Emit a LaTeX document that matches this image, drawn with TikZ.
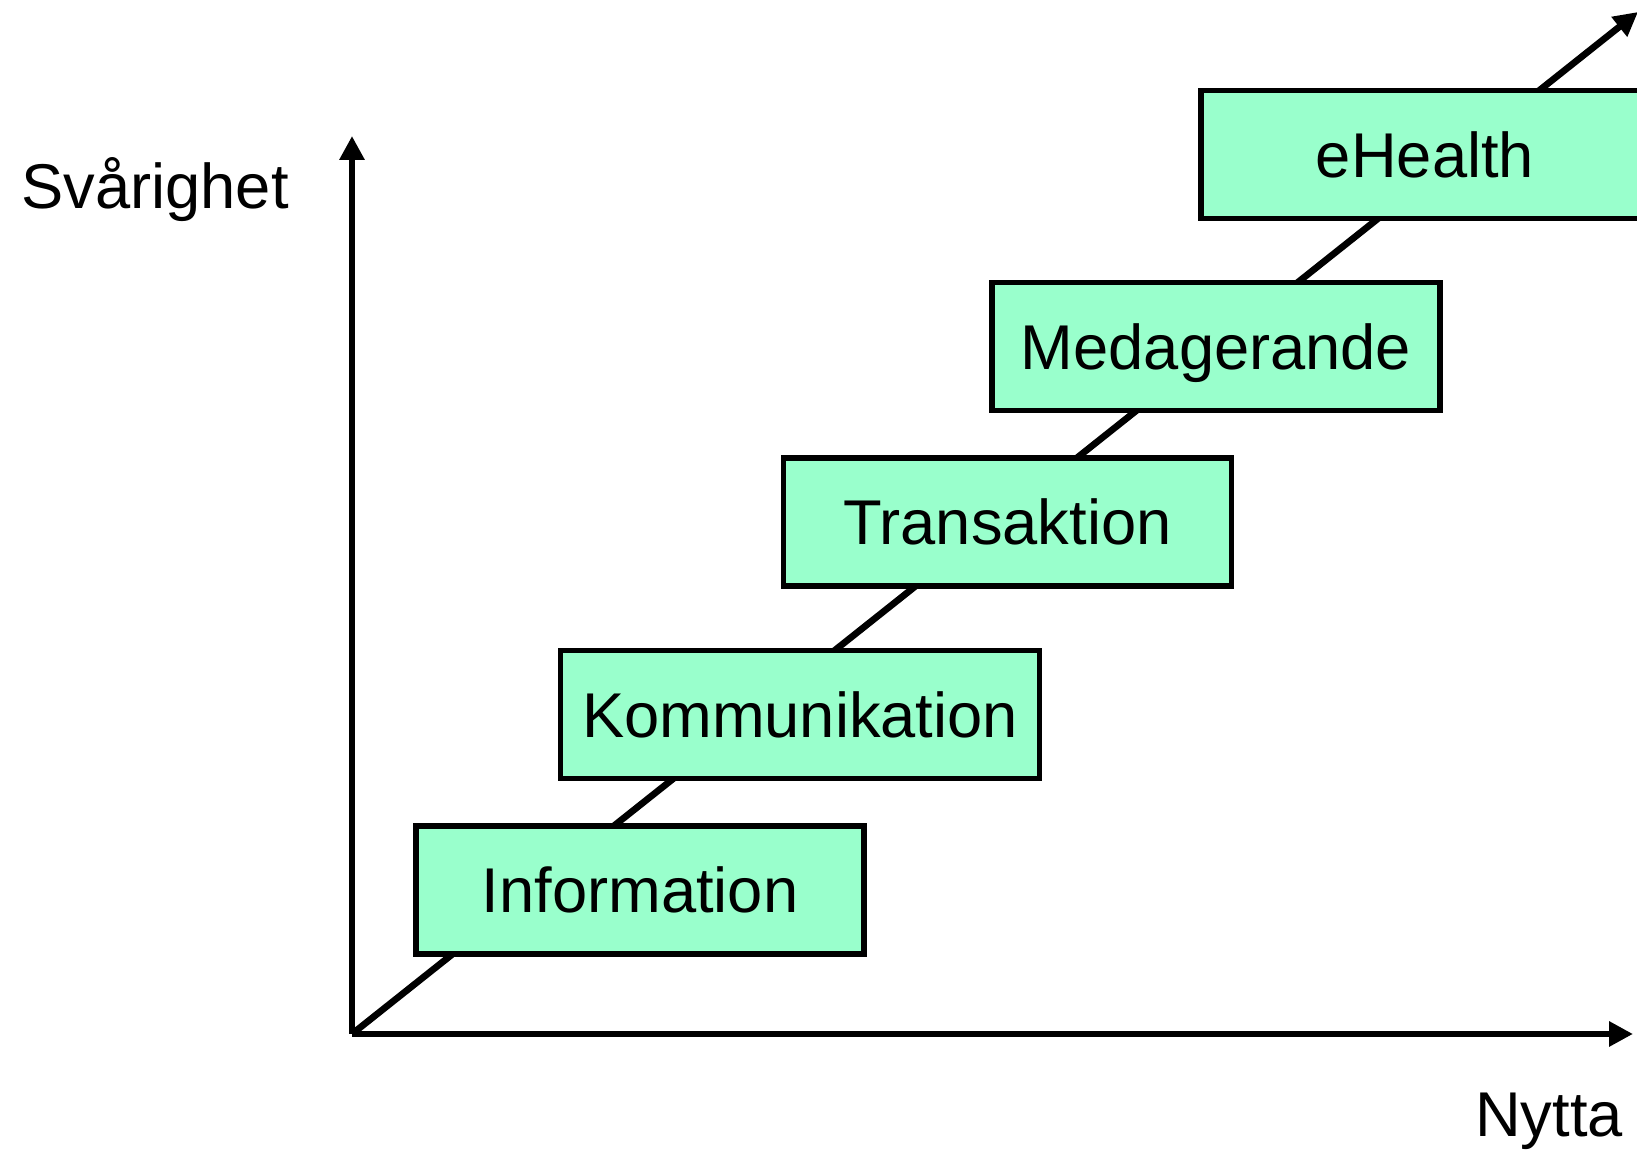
\documentclass[tikz,border=0pt]{standalone}
\usepackage{fontspec}
\setmainfont{Liberation Sans}
\usetikzlibrary{arrows.meta,
  positioning
}
\definecolor{stepgreen}{HTML}{99FFCC}
\tikzset{
  stepbox/.style={draw, line width=1.5pt, fill=stepgreen,
    minimum width=4.48cm, minimum height=1.28cm, inner sep=0pt,
    text height=12.9pt, text depth=0pt, font=\fontsize{18}{22}\selectfont},
  axis/.style={line width=1.9pt, -{Triangle[width=0.24cm,length=0.24cm]}},
  axislabel/.style={anchor=base, font=\fontsize{18}{22}\selectfont}
}

\begin{document}
\begin{tikzpicture}
  \useasboundingbox (-3.52, -1.16) rectangle (12.85, 10.34);

  \coordinate (O) at (0, 0);
  \coordinate (ytip) at (0, 8.98);
  \coordinate (xtip) at (12.81, 0);
  \coordinate (dtip) at (12.86, 10.22);

  % diagonal behind the steps
  \draw[axis] (O) -- (dtip);

  % steps
  \node[stepbox] (info) at (2.88, 1.44) {Information};
  \node[stepbox, minimum width=4.79cm] (komm) at (4.48, 3.195) {Kommunikation};
  \node[stepbox] (trans) at (6.555, 5.12) {Transaktion};
  \node[stepbox] (med) at (8.64, 6.875) {Medagerande};
  \node[stepbox] (ehealth) at (10.73, 8.795) {eHealth};

  % axes
  \draw[axis] (O) -- (ytip);
  \draw[axis] (O) -- (xtip);
  \node[axislabel] (svar) at (-1.97, 8.25) {Svårighet};
  \node[axislabel] (nytta) at (11.97, -1.03) {Nytta};
\end{tikzpicture}
\end{document}
